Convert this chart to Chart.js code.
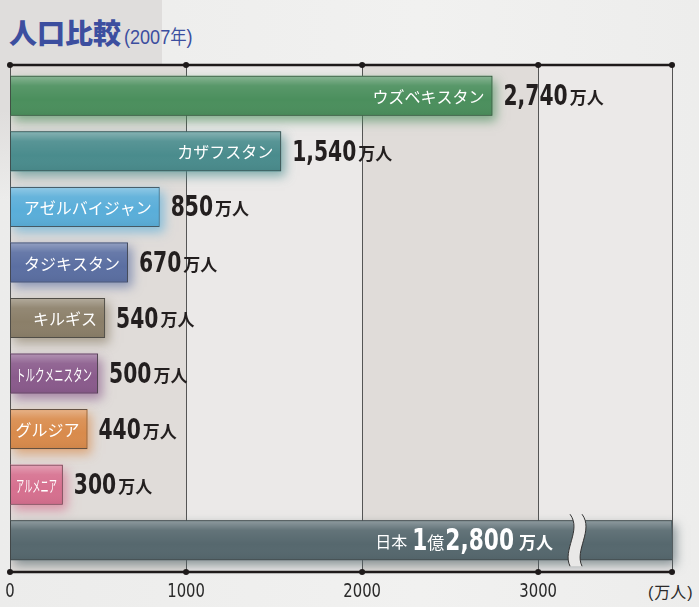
<!DOCTYPE html>
<html>
<head>
<meta charset="utf-8">
<script src="https://cdn.jsdelivr.net/npm/chart.js@4"></script>
<style>
  html, body { margin: 0; padding: 0; }
  body { width: 699px; height: 607px; position: relative; overflow: hidden;
         background: linear-gradient(90deg, #ececeb, #f1f1f0 60%, #ededec); font-family: "Noto Sans CJK JP", sans-serif; }
  #block { position: absolute; left: 0; top: 0; width: 162px; height: 200px;
           background: linear-gradient(#dfdddc, #dfdddc 55%, rgba(223,221,220,0)); }
  #title { position: absolute; left: 9px; top: 12px; color: #3c4e9f; white-space: nowrap; }
  #title b { font-size: 28px; font-weight: 900; }
  #title span { font-size: 21px; margin-left: 3px; font-family: "Liberation Sans", sans-serif; display: inline-block; transform: scaleX(0.86); transform-origin: left; }
  #title span i { font-style: normal; font-family: "Noto Sans CJK JP", sans-serif; font-size: 19px; }
  #unit { position: absolute; left: 647px; top: 579px; font-size: 16px; color: #2a2a2a; white-space: nowrap; }
  #unit i { font-style: normal; font-family: "Liberation Sans", sans-serif; margin: 0 1px; }
  #wrap { position: absolute; left: 0; top: 0; width: 699px; height: 607px; }
</style>
</head>
<body>
<div id="block"></div>
<div id="title"><b>人口比較</b><span>(2007<i>年</i>)</span></div>
<div id="unit"><i>(</i>万人<i>)</i></div>
<div id="wrap"><canvas id="popChart"></canvas></div>
<script>
const countries = ['ウズベキスタン', 'カザフスタン', 'アゼルバイジャン', 'タジキスタン', 'キルギス', 'トルクメニスタン', 'グルジア', 'アルメニア', '日本'];
const population = [2740, 1540, 850, 670, 540, 500, 440, 300, 12800];
const barColors = ['#4b8f5d', '#4a8c8d', '#5aaed9', '#5b6fa2', '#8b7f69', '#8a5b8c', '#d98b4c', '#d6708f', '#56686e'];
const xTicks = [0, 1000, 2000, 3000];
const axisMax = 3760;

const numFont = '"DejaVu Sans", sans-serif';
const jp = '"Noto Sans CJK JP", sans-serif';
const squeeze = 0.7;
// the frame sits a little outside the bar area
const frameTop = 3, frameBottom = 4;

// shaded columns and grid lines behind the bars
const bgPlugin = {
  id: 'bgColumns',
  beforeDatasetsDraw(chart) {
    const { ctx, chartArea: a, scales: { x } } = chart;
    const edges = [0, 1000, 2000, 3000, axisMax];
    const t = a.top - frameTop, b = a.bottom + frameBottom;
    ctx.save();
    for (let i = 0; i < edges.length - 1; i++) {
      const x0 = x.getPixelForValue(edges[i]);
      const x1 = x.getPixelForValue(edges[i + 1]);
      ctx.fillStyle = i % 2 === 0 ? '#e0dcd9' : '#ebe9e8';
      ctx.fillRect(x0, t, x1 - x0, b - t);
    }
    ctx.strokeStyle = '#555';
    ctx.lineWidth = 1;
    xTicks.map(v => x.getPixelForValue(v)).concat([a.right]).forEach(gx => {
      const px = Math.round(gx) + 0.5;
      ctx.beginPath();
      ctx.moveTo(px, t);
      ctx.lineTo(px, b);
      ctx.stroke();
    });

    // coloured glow under each bar
    const meta = chart.getDatasetMeta(0);
    ctx.beginPath();
    ctx.rect(a.left, t, a.right - a.left + 30, b - t + 10);
    ctx.clip();
    meta.data.forEach((bar, i) => {
      const h = bar.height;
      const right = Math.min(bar.x, a.right);
      ctx.shadowColor = barColors[i] + 'aa';
      ctx.shadowBlur = 10;
      ctx.shadowOffsetY = 5;
      ctx.shadowOffsetX = 4;
      ctx.fillStyle = barColors[i];
      ctx.fillRect(bar.base, bar.y - h / 2, right - bar.base, h);
    });
    ctx.restore();
  }
};

// condensed text: draw with a horizontal squeeze, return drawn width
function narrowText(ctx, text, x, y, sx) {
  ctx.save();
  ctx.translate(x, y);
  ctx.scale(sx, 1);
  ctx.fillText(text, 0, 0);
  ctx.restore();
  return ctx.measureText(text).width * sx;
}

const labelPlugin = {
  id: 'labels',
  afterDatasetsDraw(chart) {
    const { ctx, chartArea: a, scales: { x } } = chart;
    const meta = chart.getDatasetMeta(0);
    ctx.save();

    // highlight on top part of bars
    ctx.beginPath();
    ctx.rect(a.left, a.top, a.right - a.left, a.bottom - a.top);
    ctx.clip();
    meta.data.forEach((bar) => {
      const h = bar.height, top = bar.y - h / 2;
      const right = Math.min(bar.x, a.right);
      const g = ctx.createLinearGradient(0, top, 0, top + h);
      g.addColorStop(0, 'rgba(255,255,255,0.35)');
      g.addColorStop(0.25, 'rgba(255,255,255,0.08)');
      g.addColorStop(0.6, 'rgba(255,255,255,0)');
      g.addColorStop(1, 'rgba(0,0,0,0.05)');
      ctx.fillStyle = g;
      ctx.fillRect(bar.base + 1, top + 1, right - bar.base - 2, h - 2);
    });
    ctx.restore();

    ctx.save();
    ctx.textBaseline = 'middle';
    ctx.textAlign = 'left';
    meta.data.forEach((bar, i) => {
      if (i === countries.length - 1) return;
      // name inside the bar
      ctx.fillStyle = '#ffffff';
      ctx.font = '16px ' + jp;
      const maxW = bar.x - bar.base - 12;
      const w = ctx.measureText(countries[i]).width;
      if (w > maxW) {
        narrowText(ctx, countries[i], bar.base + 6, bar.y + 1, maxW / w);
      } else {
        ctx.fillText(countries[i], bar.x - 8 - w, bar.y + 1);
      }
      // value outside
      ctx.fillStyle = '#231f1f';
      ctx.font = 'bold 29px ' + numFont;
      const num = population[i].toLocaleString('en-US');
      const nx = bar.x + 11;
      const nw = narrowText(ctx, num, nx, bar.y + 2, squeeze);
      ctx.font = 'bold 17px ' + jp;
      ctx.fillText('万人', nx + nw + 2, bar.y + 2);
    });

    // Japan label
    const jb = meta.data[countries.length - 1];
    const parts = [
      ['日本', '16px ' + jp, 1, 5],
      ['1', 'bold 31px ' + numFont, squeeze, 0],
      ['億', '17px ' + jp, 1, 1],
      [(12800 % 10000).toLocaleString('en-US'), 'bold 31px ' + numFont, squeeze, 5],
      ['万人', 'bold 17px ' + jp, 1, 0]
    ];
    let total = 0;
    parts.forEach(p => { ctx.font = p[1]; total += ctx.measureText(p[0]).width * p[2] + p[3]; });
    let px = 553 - total;
    ctx.fillStyle = '#ffffff';
    parts.forEach(p => {
      ctx.font = p[1];
      px += narrowText(ctx, p[0], px, jb.y + 2, p[2]) + p[3];
    });

    // break mark
    const bx = x.getPixelForValue(3215);
    const top = jb.y - jb.height / 2 - 6, bot = jb.y + jb.height / 2 + 6;
    ctx.fillStyle = '#e9e8e7';
    ctx.beginPath();
    ctx.moveTo(bx - 6, top);
    ctx.bezierCurveTo(bx + 6, top + 16, bx - 14, bot - 16, bx - 6, bot);
    ctx.lineTo(bx + 6, bot);
    ctx.bezierCurveTo(bx - 2, bot - 16, bx + 18, top + 16, bx + 6, top);
    ctx.closePath();
    ctx.fill();
    ctx.strokeStyle = '#333';
    ctx.lineWidth = 1;
    ctx.beginPath();
    ctx.moveTo(bx - 6, top);
    ctx.bezierCurveTo(bx + 6, top + 16, bx - 14, bot - 16, bx - 6, bot);
    ctx.moveTo(bx + 6, bot);
    ctx.bezierCurveTo(bx - 2, bot - 16, bx + 18, top + 16, bx + 6, top);
    ctx.stroke();

    // top and bottom axis lines with dots
    ctx.strokeStyle = '#1e1a1a';
    ctx.fillStyle = '#1e1a1a';
    ctx.lineWidth = 2.5;
    const dots = xTicks.map(v => x.getPixelForValue(v)).concat([a.right]);
    [a.top - frameTop, a.bottom + frameBottom].forEach(yy => {
      ctx.beginPath();
      ctx.moveTo(a.left, yy);
      ctx.lineTo(a.right, yy);
      ctx.stroke();
      dots.forEach(dx => {
        ctx.beginPath();
        ctx.arc(dx, yy, 3, 0, Math.PI * 2);
        ctx.fill();
      });
    });

    // tick labels
    ctx.fillStyle = '#2a2a2a';
    ctx.font = '19px ' + numFont;
    xTicks.forEach(v => {
      const t = String(v);
      const tw = ctx.measureText(t).width * 0.78;
      narrowText(ctx, t, x.getPixelForValue(v) - tw / 2, a.bottom + frameBottom + 20, 0.78);
    });
    ctx.restore();
  }
};

new Chart(document.getElementById('popChart'), {
  type: 'bar',
  data: {
    labels: countries,
    datasets: [{
      data: population,
      backgroundColor: barColors,
      borderColor: 'rgba(60,60,60,0.75)',
      borderWidth: 1,
      borderSkipped: false,
      barPercentage: 0.8,
      categoryPercentage: 0.9
    }]
  },
  options: {
    indexAxis: 'y',
    responsive: true,
    maintainAspectRatio: false,
    animation: false,
    layout: { padding: { left: 10, right: 27, top: 65 + frameTop, bottom: 35 + frameBottom } },
    plugins: { legend: { display: false }, tooltip: { enabled: false } },
    scales: {
      x: {
        min: 0,
        max: axisMax,
        afterBuildTicks(scale) { scale.ticks = xTicks.map(v => ({ value: v })); },
        grid: { display: false, drawTicks: false },
        border: { display: false },
        ticks: { display: false }
      },
      y: { display: false }
    }
  },
  plugins: [bgPlugin, labelPlugin]
});
</script>
</body>
</html>
